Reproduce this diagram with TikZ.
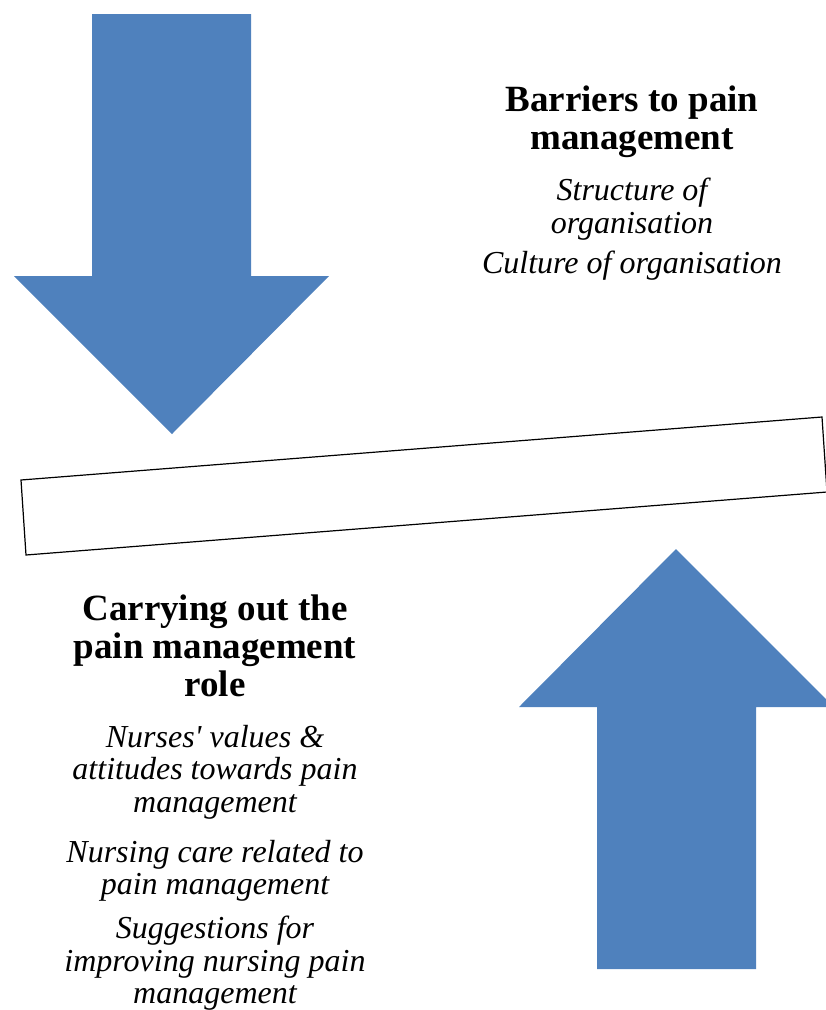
\documentclass[tikz,border=0pt]{standalone}
\usepackage{fontspec}
\setmainfont{Liberation Serif}
\usepackage{tikz}
\definecolor{arrowblue}{HTML}{4F81BD}

\begin{document}
\begin{tikzpicture}[x=1pt, y=-1pt,
    head/.style={align=center, inner sep=0pt, anchor=north, font={\fontsize{37}{38}\selectfont\bfseries}},
    item/.style={align=center, inner sep=0pt, anchor=north, font={\fontsize{32}{32.5}\selectfont\itshape}}]
    \useasboundingbox (0,0) rectangle (826,1010);

    % arrow pushing down
    \fill[arrowblue] (92,14) -- (251,14) -- (251,276) -- (329,276) -- (172,434) --
        (14,276) -- (92,276) -- cycle;
    % arrow pushing up
    \fill[arrowblue] (597,969) -- (756,969) -- (756,707) -- (834,707) -- (676,549) --
        (519,707) -- (597,707) -- cycle;
    % tilted bar
    \draw[line width=1.2pt] (21,480) -- (822,417) -- (827,492) -- (26,555) -- cycle;

    \node[head] (barriers) at (632,86) {Barriers to pain\\management};
    \node[item] (structure) at (632,178) {Structure of\\organisation};
    \node[item] (culture) at (632,251) {Culture of organisation};

    \node[head] (role) at (215,595) {Carrying out the\\pain management\\role};
    \node[item] (values) at (215,725) {Nurses\textquotesingle\ values \&\\attitudes towards pain\\management};
    \node[item] (care) at (215,840) {Nursing care related to\\pain management};
    \node[item] (suggest) at (215,916) {Suggestions for\\improving nursing pain\\management};
\end{tikzpicture}
\end{document}
